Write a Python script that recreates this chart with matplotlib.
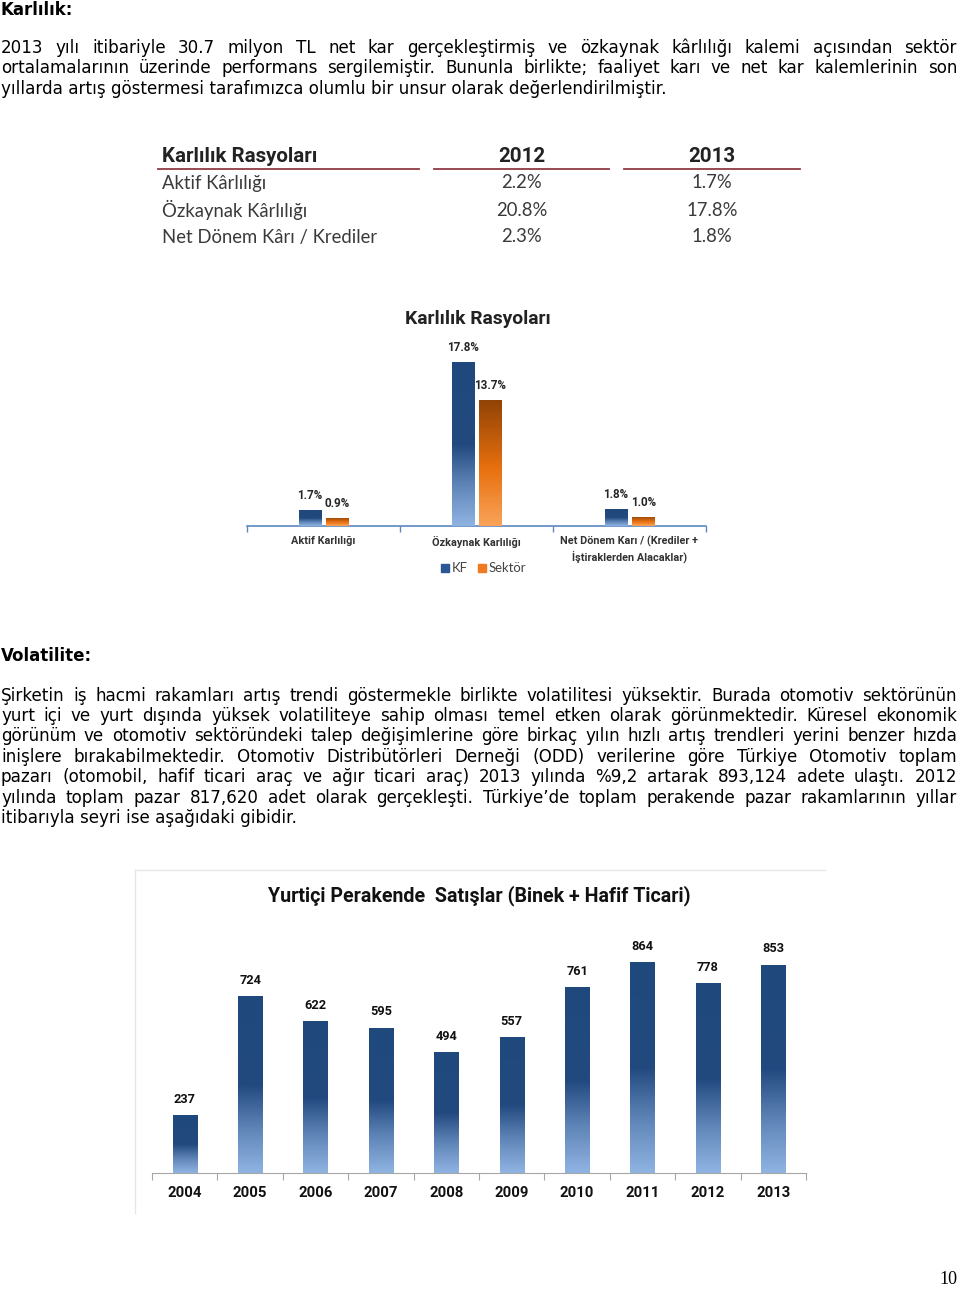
import matplotlib
matplotlib.use("Agg")
import matplotlib.pyplot as plt
import numpy as np
from matplotlib.colors import LinearSegmentedColormap

# ---------------- data ----------------
heading1 = "Karlılık:"
para1_lines = [
    "2013 yılı itibariyle 30.7 milyon TL net kar gerçekleştirmiş ve özkaynak kârlılığı kalemi açısından sektör",
    "ortalamalarının üzerinde performans sergilemiştir. Bununla birlikte; faaliyet karı ve net kar kalemlerinin son",
    "yıllarda artış göstermesi tarafımızca olumlu bir unsur olarak değerlendirilmiştir.",
]
heading2 = "Volatilite:"
para2_lines = [
    "Şirketin iş hacmi rakamları artış trendi göstermekle birlikte volatilitesi yüksektir. Burada otomotiv sektörünün",
    "yurt içi ve yurt dışında yüksek volatiliteye sahip olması temel etken olarak görünmektedir. Küresel ekonomik",
    "görünüm ve otomotiv sektöründeki talep değişimlerine göre birkaç yılın hızlı artış trendleri yerini benzer hızda",
    "inişlere bırakabilmektedir. Otomotiv Distribütörleri Derneği (ODD) verilerine göre Türkiye Otomotiv toplam",
    "pazarı (otomobil, hafif ticari araç ve ağır ticari araç) 2013 yılında %9,2 artarak 893,124 adete ulaştı. 2012",
    "yılında toplam pazar 817,620 adet olarak gerçekleşti. Türkiye’de toplam perakende pazar rakamlarının yıllar",
    "itibarıyla seyri ise aşağıdaki gibidir.",
]

table_title = "Karlılık Rasyoları"
table_years = ["2012", "2013"]
table_rows = ["Aktif Kârlılığı", "Özkaynak Kârlılığı", "Net Dönem Kârı / Krediler"]
table_2012 = ["2.2%", "20.8%", "2.3%"]
table_2013 = ["1.7%", "17.8%", "1.8%"]

ratio_title = "Karlılık Rasyoları"
ratio_categories = ["Aktif Karlılığı", "Özkaynak Karlılığı",
                    "Net Dönem Karı / (Krediler +\nİştiraklerden Alacaklar)"]
ratio_kf = [1.7, 17.8, 1.8]
ratio_sektor = [0.9, 13.7, 1.0]
ratio_series = ["KF", "Sektör"]

sales_title = "Yurtiçi Perakende  Satışlar (Binek + Hafif Ticari)"
sales_years = ["2004", "2005", "2006", "2007", "2008", "2009", "2010", "2011", "2012", "2013"]
sales_values = [237, 724, 622, 595, 494, 557, 761, 864, 778, 853]

page_number = "10"

# ---------------- figure ----------------
W, H = 960, 1290
fig = plt.figure(figsize=(W / 100, H / 100), dpi=100)
fig.patch.set_facecolor("white")
renderer = fig.canvas.get_renderer()

def fx(x):
    return x / W

def fy(y):
    return 1 - y / H

BODY_FONT = ["DejaVu Sans"]
CAL = ["Lato", "DejaVu Sans"]                      # Calibri-like regular
CALB = ["Roboto", "DejaVu Sans"]                   # bold headings
NARROWB = ["Liberation Sans Narrow", "Roboto", "DejaVu Sans"]

def text_width(s, **kw):
    t = fig.text(0, 0, s, **kw)
    w = t.get_window_extent(renderer).width
    t.remove()
    return w

def fit_fs(s, target, fs0=10, **kw):
    return fs0 * target / text_width(s, fontsize=fs0, **kw)

# body font size so that the last line of paragraph 1 ends near x=669
body_fs = fit_fs(para1_lines[2], 668, family=BODY_FONT)

def draw_line(line, y, justify, x0=1, x1=957):
    kw = dict(fontsize=body_fs, family=BODY_FONT, color="black", va="center", ha="left")
    if not justify:
        fig.text(fx(x0), fy(y), line, **kw)
        return
    words = line.split(" ")
    widths = [text_width(w, **kw) for w in words]
    gap = (x1 - x0 - sum(widths)) / (len(words) - 1)
    x = x0
    for w, wd in zip(words, widths):
        fig.text(fx(x), fy(y), w, **kw)
        x += wd + gap

head_fs = fit_fs(heading2, 91, family=BODY_FONT, weight="bold")
fig.text(fx(1), fy(1), heading1, fontsize=head_fs, family=BODY_FONT,
         weight="bold", va="top", ha="left")
for i, (line, y) in enumerate(zip(para1_lines, [48, 68, 89])):
    draw_line(line, y, justify=(i < len(para1_lines) - 1))

fig.text(fx(1), fy(656), heading2, fontsize=head_fs, family=BODY_FONT,
         weight="bold", va="center", ha="left")
for i, (line, y) in enumerate(zip(para2_lines, [696, 716, 736, 757, 777, 798, 818])):
    draw_line(line, y, justify=(i < len(para2_lines) - 1))

# ---------------- table ----------------
tcol = "#3a3a3a"
th_fs = fit_fs(table_title, 155, family=CALB, weight="bold")
fig.text(fx(162), fy(156), table_title, fontsize=th_fs, family=CALB,
         weight="bold", color="#222222", va="center", ha="left")
for yr, cx in zip(table_years, [522, 712]):
    fig.text(fx(cx), fy(156), yr, fontsize=th_fs, family=CALB,
             weight="bold", color="#222222", va="center", ha="center")
for x0, x1 in [(158, 419), (434, 609), (624, 800)]:
    fig.add_artist(plt.Line2D([fx(x0), fx(x1)], [fy(168.5), fy(168.5)],
                              color="#8e3b42", lw=1.3))
tr_fs = fit_fs(table_rows[1], 145, family=CAL)
for r, (name, v12, v13) in enumerate(zip(table_rows, table_2012, table_2013)):
    y = 183 + r * 27
    fig.text(fx(162), fy(y), name, fontsize=tr_fs, family=CAL,
             color=tcol, va="center", ha="left")
    fig.text(fx(522), fy(y), v12, fontsize=tr_fs, family=CAL,
             color=tcol, va="center", ha="center")
    fig.text(fx(712), fy(y), v13, fontsize=tr_fs, family=CAL,
             color=tcol, va="center", ha="center")

# ---------------- gradient helper ----------------
blue_cmap = LinearSegmentedColormap.from_list(
    "blue", [(0.0, "#90b4e2"), (0.25, "#5f85b8"), (0.5, "#22497f"), (1.0, "#1f497d")])
orange_cmap = LinearSegmentedColormap.from_list(
    "orange", [(0.0, "#f9a45a"), (0.45, "#e8700f"), (1.0, "#8f4306")])
grad = np.linspace(0, 1, 256).reshape(-1, 1)

def gradient_bars(ax, bars, cmap):
    for b in bars:
        x0, y0 = b.get_x(), b.get_y()
        w, h = b.get_width(), b.get_height()
        im = ax.imshow(grad, cmap=cmap, origin="lower", aspect="auto",
                       extent=(x0, x0 + w, y0, y0 + h), zorder=3)
        im.set_clip_path(b)

# ---------------- chart 1: Karlılık Rasyoları ----------------
ax1_left, ax1_right, ax1_base, ax1_top = 247, 706, 526, 340
ax1 = fig.add_axes([fx(ax1_left), fy(ax1_base), (ax1_right - ax1_left) / W,
                    (ax1_base - ax1_top) / H])
n1 = len(ratio_categories)
x1 = np.arange(n1)
bw1 = 0.145
ppu = (ax1_base - 362) / 17.8  # pixels per percent
ymax1 = (ax1_base - ax1_top) / ppu
ax1.set_xlim(-0.5, n1 - 0.5)
ax1.set_ylim(0, ymax1)
b_kf = ax1.bar(x1 - bw1 / 2 - 0.018, ratio_kf, bw1, color="#1f497d", zorder=2)
b_se = ax1.bar(x1 + bw1 / 2 + 0.018, ratio_sektor, bw1, color="#e46c0a", zorder=2)
gradient_bars(ax1, b_kf, blue_cmap)
gradient_bars(ax1, b_se, orange_cmap)
val_fs = fit_fs("17.8%", 32, family=CALB, weight="bold")
for bars, vals in [(b_kf, ratio_kf), (b_se, ratio_sektor)]:
    for b, v in zip(bars, vals):
        ax1.annotate(f"{v:.1f}%", (b.get_x() + b.get_width() / 2, v),
                     xytext=(0, 10.5), textcoords="offset points", ha="center",
                     va="center", fontsize=val_fs, weight="bold", family=CALB,
                     color="#262626")
for s in ["top", "right", "left"]:
    ax1.spines[s].set_visible(False)
ax1.spines["bottom"].set_color("#5b88bf")
ax1.spines["bottom"].set_linewidth(1.2)
ax1.set_yticks([])
ax1.set_xticks(np.arange(-0.5, n1, 1.0))
ax1.set_xticklabels([])
ax1.tick_params(axis="x", length=4, color="#5b88bf", width=1)
cat_fs = fit_fs(ratio_categories[1], 88, family=CALB, weight="bold")
for xi, lab in zip(x1, ratio_categories):
    ax1.text(xi, -0.055, lab, transform=ax1.get_xaxis_transform(), ha="center",
             va="top", fontsize=cat_fs, weight="bold", family=CALB,
             color="#333333", linespacing=1.25)
ax1.set_facecolor("none")
fig.text(fx(478), fy(319), ratio_title,
         fontsize=fit_fs(ratio_title, 146, family=CALB, weight="bold"),
         family=CALB, weight="bold", color="#222222", ha="center", va="center")
# legend
leg_fs = fit_fs(ratio_series[1], 38, family=CAL)
for lbl, col, lx in [(ratio_series[0], "#2a5896", 441), (ratio_series[1], "#ef7a1f", 478)]:
    fig.add_artist(plt.Rectangle((fx(lx), fy(572)), 8 / W, 8 / H, color=col))
    fig.text(fx(lx + 11), fy(568), lbl, fontsize=leg_fs, family=CAL,
             color="#444444", ha="left", va="center")

# ---------------- chart 2: Yurtiçi Perakende Satışlar ----------------
fig.add_artist(plt.Line2D([fx(135), fx(825)], [fy(870), fy(870)], color="#e6e6e6", lw=1))
fig.add_artist(plt.Line2D([fx(135), fx(135)], [fy(870), fy(1213)], color="#e6e6e6", lw=1))
ax2_left, ax2_right, ax2_base, ax2_top = 152, 806, 1173, 929
ax2 = fig.add_axes([fx(ax2_left), fy(ax2_base), (ax2_right - ax2_left) / W,
                    (ax2_base - ax2_top) / H])
n2 = len(sales_years)
x2 = np.arange(n2)
ppu2 = (ax2_base - 962) / 864
ax2.set_xlim(-0.5, n2 - 0.5)
ax2.set_ylim(0, (ax2_base - ax2_top) / ppu2)
b2 = ax2.bar(x2, sales_values, 0.37, color="#1f497d", zorder=2)
gradient_bars(ax2, b2, blue_cmap)
sv_fs = fit_fs("237", 22, family=NARROWB, weight="bold")
for b, v in zip(b2, sales_values):
    ax2.annotate(f"{v}", (b.get_x() + b.get_width() / 2, v), xytext=(0, 11.5),
                 textcoords="offset points", ha="center", va="center",
                 fontsize=sv_fs, weight="bold", family=NARROWB, color="#111111")
for s in ["top", "right", "left"]:
    ax2.spines[s].set_visible(False)
ax2.spines["bottom"].set_color("#a6a6a6")
ax2.set_yticks([])
ax2.set_xticks(np.arange(-0.5, n2, 1.0))
ax2.set_xticklabels([])
ax2.tick_params(axis="x", length=5, color="#a6a6a6", width=0.8)
yr_fs = fit_fs("2004", 34, family=NARROWB, weight="bold")
for xi, lab in zip(x2, sales_years):
    ax2.text(xi, -0.082, lab, transform=ax2.get_xaxis_transform(), ha="center",
             va="center", fontsize=yr_fs, weight="bold", family=NARROWB, color="#111111")
ax2.set_facecolor("none")
fig.text(fx(479), fy(896), sales_title,
         fontsize=fit_fs(sales_title, 423, family=NARROWB, weight="bold"),
         family=NARROWB, weight="bold", color="#111111", ha="center", va="center")

fig.text(fx(957), fy(1279), page_number, fontsize=13, family="Liberation Serif",
         color="black", ha="right", va="center")

fig.savefig("out.png", dpi=100, facecolor="white")
